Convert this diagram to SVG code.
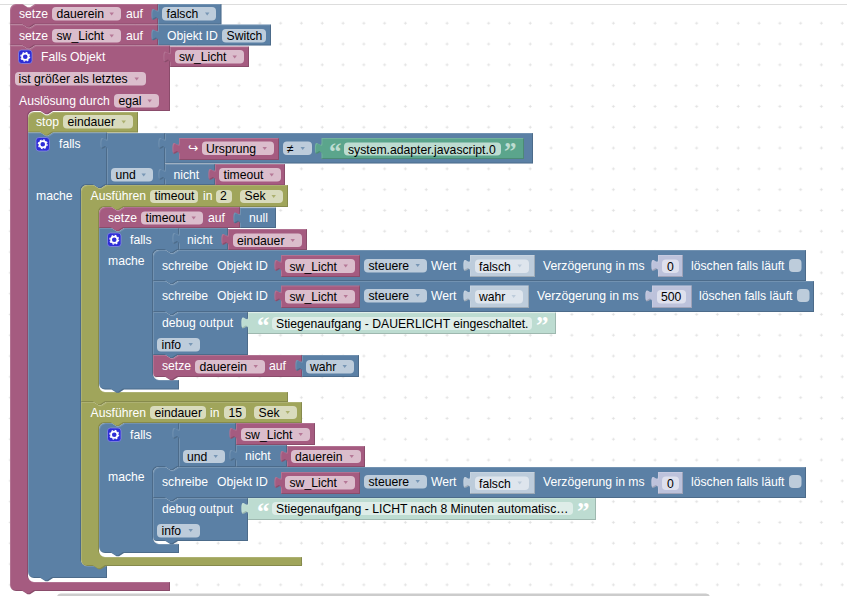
<svg xmlns="http://www.w3.org/2000/svg" width="847" height="596" viewBox="0 0 847 596">
<style>
text{font-family:"Liberation Sans",Arial,"DejaVu Sans",sans-serif;font-size:12.2px}
.t{fill:#fff}.k{fill:#000}
.m,.b,.o,.g,.l,.sb,.sn{filter:url(#bevel)}
.m{fill:#a55b80}.b{fill:#5b80a5}.o{fill:#a0a55b}.g{fill:#5ba58c}.l{fill:#bddcd1}.sb{fill:#bdccdb}.sn{fill:#bdc2db}
.fm{fill:#dbbdcc}.fb{fill:#bdccdb}.fo{fill:#d9dbbd}.fg{fill:#bddcd1}.fl{fill:#deede8}.fs{fill:#dee5ed}.fn{fill:#dee0ed}
.am{fill:#a55b80;fill-opacity:.7}.ab{fill:#5b80a5;fill-opacity:.7}.ao{fill:#a0a55b;fill-opacity:.8}.as{fill:#bdccdb}
.q{font-family:"Liberation Serif",serif;font-size:25px;font-weight:bold}
</style>
<defs>
<filter id="bevel" x="-5%" y="-5%" width="110%" height="115%" color-interpolation-filters="sRGB">
<feOffset in="SourceAlpha" dx="1" dy="1" result="o1"/>
<feComposite in="SourceGraphic" in2="o1" operator="out" result="lightArea"/>
<feFlood flood-color="#fff" flood-opacity=".14"/><feComposite in2="lightArea" operator="in" result="light"/>
<feOffset in="SourceAlpha" dx="-1" dy="-1" result="o2"/>
<feComposite in="SourceGraphic" in2="o2" operator="out" result="darkArea"/>
<feFlood flood-color="#000" flood-opacity=".16"/><feComposite in2="darkArea" operator="in" result="dark"/>
<feMerge><feMergeNode in="SourceGraphic"/><feMergeNode in="light"/><feMergeNode in="dark"/></feMerge>
</filter>
<pattern id="grid" width="20.8" height="20.8" patternUnits="userSpaceOnUse">
<path d="M8.7 2.4h3M10.2 .9v3" stroke="#ddd" stroke-width=".8" fill="none"/>
</pattern>
<path id="a" d="M0 0h4.4l-2.2 3z"/>
<g id="icon">
<rect width="13.5" height="13.5" rx="3" fill="#2d2dd6" stroke="#8f8fe8" stroke-width=".7"/>
<circle cx="6.75" cy="6.75" r="3.2" fill="none" stroke="#fff" stroke-width="1.8"/>
<circle cx="6.75" cy="6.75" r="4.4" fill="none" stroke="#fff" stroke-width="1.2" stroke-dasharray="1.7 1.75"/>
</g>
</defs>
<rect width="847" height="596" fill="#fff"/>
<rect y="4" width="847" height="592" fill="url(#grid)"/>
<path d="M0 4.5H847" stroke="#ddd"/>

<g id="setze-dauerein">
<path class="m" d="M10 10a6 6 0 0 1 6-6h6.5l5 3.3h2.5l5-3.3H158V24.5H35l-5 3.3h-2.5l-5-3.3H10z"/>
<text class="t" x="19" y="18">setze</text>
<rect class="fm" x="52" y="7" width="69" height="13.5" rx="4"/><text class="k" x="56.5" y="18">dauerein</text><use href="#a" class="am" x="109.5" y="12.5"/>
<text class="t" x="126" y="18">auf</text>
<path class="b" d="M158 4H221.5V24.5H158V20.6c0-8.3-6.6 6.6-6.6-6.2s6.6 2.1 6.6-6.2z"/>
<rect class="fb" x="162" y="7" width="54" height="13.5" rx="4"/><text class="k" x="166.5" y="18">falsch</text><use href="#a" class="ab" x="205" y="12.5"/>
</g>

<g id="setze-sw-licht">
<path class="m" d="M10 24.5h12.5l5 3.3h2.5l5-3.3H158V45.5H35l-5 3.3h-2.5l-5-3.3H10z"/>
<text class="t" x="19" y="40">setze</text>
<rect class="fm" x="52" y="29" width="69" height="13.5" rx="4"/><text class="k" x="56.5" y="40">sw_Licht</text><use href="#a" class="am" x="109.5" y="34.5"/>
<text class="t" x="126" y="40">auf</text>
<path class="b" d="M158 24.5H271V45.5H158V41.1c0-8.3-6.6 6.6-6.6-6.2s6.6 2.1 6.6-6.2z"/>
<text class="t" x="167" y="40">Objekt ID</text>
<rect class="fb" x="222" y="29" width="44" height="13.5" rx="4"/><text class="k" x="226.5" y="40">Switch</text>
</g>

<g id="falls-objekt">
<path class="m" d="M10 45.5h12.5l5 3.3h2.5l5-3.3H170V111H53l-5 3.3h-2.5l-5-3.3H34a6 6 0 0 0-6 6V576a6 6 0 0 0 6 6H170V591H35l-5 3.3h-2.5l-5-3.3H16a6 6 0 0 1-6-6z"/>
<use href="#icon" x="18.5" y="50"/>
<text class="t" x="41" y="61">Falls Objekt</text>
<path class="m" d="M170 46.5H249V67H170V63.1c0-8.3-6.6 6.6-6.6-6.2s6.6 2.1 6.6-6.2z"/>
<rect class="fm" x="175" y="50" width="69" height="13.5" rx="4"/><text class="k" x="179" y="61">sw_Licht</text><use href="#a" class="am" x="232.5" y="55.5"/>
<rect class="fm" x="15" y="72" width="131" height="13.5" rx="4"/><text class="k" x="18.5" y="83">ist größer als letztes</text><use href="#a" class="am" x="134.5" y="77.5"/>
<text class="t" x="19" y="105">Auslösung durch</text>
<rect class="fm" x="114" y="94" width="45" height="13.5" rx="4"/><text class="k" x="118.5" y="105">egal</text><use href="#a" class="am" x="147.5" y="99.5"/>
</g>

<g id="stop-eindauer">
<path class="o" d="M28 118a6 6 0 0 1 6-6h6.5l5 3.3h2.5l5-3.3H138V132.5H53l-5 3.3h-2.5l-5-3.3H28z"/>
<text class="t" x="36" y="126">stop</text>
<rect class="fo" x="63" y="115" width="70" height="13.5" rx="4"/><text class="k" x="67.5" y="126">eindauer</text><use href="#a" class="ao" x="121.5" y="120.5"/>
</g>

<g id="falls-1">
<path class="b" d="M28 132.5h12.5l5 3.3h2.5l5-3.3H107V185H106l-5 3.3h-2.5l-5-3.3H87a6 6 0 0 0-6 6V560a6 6 0 0 0 6 6H107V578H53l-5 3.3h-2.5l-5-3.3H34a6 6 0 0 1-6-6z"/>
<use href="#icon" x="36" y="137.5"/>
<text class="t" x="59" y="148">falls</text>
<text class="t" x="36" y="200">mache</text>
<path class="b" d="M107 133H165V185H107V149.6c0-8.3-6.6 6.6-6.6-6.2s6.6 2.1 6.6-6.2z"/>
<rect class="fb" x="111" y="168" width="42" height="13.5" rx="4"/><text class="k" x="115.5" y="179">und</text><use href="#a" class="ab" x="141.5" y="173.5"/>
<path class="b" d="M165 133H533V163.5H165V149.6c0-8.3-6.6 6.6-6.6-6.2s6.6 2.1 6.6-6.2z"/>
<path class="m" d="M179 138H279V160H179V154.6c0-8.3-6.6 6.6-6.6-6.2s6.6 2.1 6.6-6.2z"/>
<text class="t" x="188" y="152">↪</text>
<rect class="fm" x="202" y="141.5" width="72" height="13.5" rx="4"/><text class="k" x="206" y="152.5">Ursprung</text><use href="#a" class="am" x="262.5" y="147"/>
<rect class="fb" x="283" y="141.5" width="29" height="13.5" rx="4"/><text class="k" x="287" y="152.5">≠</text><use href="#a" class="ab" x="300.5" y="147"/>
<path class="g" d="M321.5 138H524V159H321.5V154.6c0-8.3-6.6 6.6-6.6-6.2s6.6 2.1 6.6-6.2z"/>
<text class="q fg" x="329" y="160">“</text>
<rect class="fg" x="344" y="142.5" width="157" height="13" rx="4"/><text class="k" x="348" y="153.5">system.adapter.javascript.0</text>
<text class="q fg" x="504" y="160">”</text>
<path class="b" d="M165 164H215V185H165V180.6c0-8.3-6.6 6.6-6.6-6.2s6.6 2.1 6.6-6.2z"/>
<text class="t" x="173.5" y="179">nicht</text>
<path class="m" d="M215 164H285V185.5H215V180.6c0-8.3-6.6 6.6-6.6-6.2s6.6 2.1 6.6-6.2z"/>
<rect class="fm" x="219" y="168" width="62" height="13.5" rx="4"/><text class="k" x="223.5" y="179">timeout</text><use href="#a" class="am" x="269.5" y="173.5"/>
</g>

<g id="ausfuehren-timeout">
<path class="o" d="M81 191a6 6 0 0 1 6-6h6.5l5 3.3h2.5l5-3.3H288V207H124l-5 3.3h-2.5l-5-3.3H105a6 6 0 0 0-6 6V386a6 6 0 0 0 6 6H288V402H106l-5 3.3h-2.5l-5-3.3H81z"/>
<text class="t" x="90.5" y="200">Ausführen</text>
<rect class="fo" x="150" y="190" width="48" height="13" rx="4"/><text class="k" x="154.5" y="200">timeout</text>
<text class="t" x="203" y="200">in</text>
<rect class="fo" x="216" y="190" width="16" height="13" rx="4"/><text class="k" x="220" y="200">2</text>
<rect class="fo" x="240" y="190" width="43" height="13" rx="4"/><text class="k" x="244.5" y="200">Sek</text><use href="#a" class="ao" x="271.5" y="195"/>
</g>

<g id="setze-timeout">
<path class="m" d="M99 213a6 6 0 0 1 6-6h6.5l5 3.3h2.5l5-3.3H240V228H124l-5 3.3h-2.5l-5-3.3H99z"/>
<text class="t" x="108" y="222">setze</text>
<rect class="fm" x="141" y="211.5" width="62" height="13" rx="4"/><text class="k" x="145.5" y="222">timeout</text><use href="#a" class="am" x="191.5" y="216.5"/>
<text class="t" x="208" y="222">auf</text>
<path class="b" d="M240 207.5H276V228H240V224.1c0-8.3-6.6 6.6-6.6-6.2s6.6 2.1 6.6-6.2z"/>
<text class="t" x="249" y="222">null</text>
</g>

<g id="falls-2">
<path class="b" d="M99 228h12.5l5 3.3h2.5l5-3.3H179V250H178l-5 3.3h-2.5l-5-3.3H159a6 6 0 0 0-6 6V374a6 6 0 0 0 6 6H179V389.5H124l-5 3.3h-2.5l-5-3.3H105a6 6 0 0 1-6-6z"/>
<use href="#icon" x="107.5" y="233"/>
<text class="t" x="130" y="244">falls</text>
<text class="t" x="108" y="265">mache</text>
<path class="b" d="M179 228H228V250H179V244.6c0-8.3-6.6 6.6-6.6-6.2s6.6 2.1 6.6-6.2z"/>
<text class="t" x="187" y="244">nicht</text>
<path class="m" d="M228 229H307V250H228V245.6c0-8.3-6.6 6.6-6.6-6.2s6.6 2.1 6.6-6.2z"/>
<rect class="fm" x="233" y="233.5" width="69" height="13.5" rx="4"/><text class="k" x="237" y="244.5">eindauer</text><use href="#a" class="am" x="290.5" y="239"/>
</g>

<g id="schreibe-1">
<path class="b" d="M153 256a6 6 0 0 1 6-6h6.5l5 3.3h2.5l5-3.3H806V281H178l-5 3.3h-2.5l-5-3.3H153z"/>
<text class="t" x="162" y="270">schreibe</text><text class="t" x="217" y="270">Objekt ID</text>
<path class="m" d="M281 255H360V277H281V271.6c0-8.3-6.6 6.6-6.6-6.2s6.6 2.1 6.6-6.2z"/>
<rect class="fm" x="285" y="259" width="70" height="14" rx="4"/><text class="k" x="289.5" y="270.5">sw_Licht</text><use href="#a" class="am" x="343.5" y="264.5"/>
<rect class="fb" x="364" y="259" width="63" height="13.5" rx="4"/><text class="k" x="368.5" y="270">steuere</text><use href="#a" class="ab" x="415.5" y="264"/>
<text class="t" x="431" y="270">Wert</text>
<path class="sb" d="M470 255H535V277H470V271.6c0-8.3-6.6 6.6-6.6-6.2s6.6 2.1 6.6-6.2z"/>
<rect class="fs" x="475" y="259.5" width="54" height="13.5" rx="4"/><text class="k" x="479" y="270.5">falsch</text><use href="#a" class="as" x="517.5" y="264.5"/>
<text class="t" x="543" y="270">Verzögerung in ms</text>
<path class="sn" d="M658 255H683V277H658V271.6c0-8.3-6.6 6.6-6.6-6.2s6.6 2.1 6.6-6.2z"/>
<rect class="fn" x="662" y="259.5" width="17" height="13.5" rx="4"/><text class="k" x="667" y="270.5">0</text>
<text class="t" x="691" y="270">löschen falls läuft</text>
<rect class="fb" x="789" y="259" width="12.5" height="13" rx="4"/>
</g>

<g id="schreibe-2">
<path class="b" d="M153 281h12.5l5 3.3h2.5l5-3.3H814V312H178l-5 3.3h-2.5l-5-3.3H153z"/>
<text class="t" x="162" y="300">schreibe</text><text class="t" x="217" y="300">Objekt ID</text>
<path class="m" d="M281 285.5H360V308H281V302.1c0-8.3-6.6 6.6-6.6-6.2s6.6 2.1 6.6-6.2z"/>
<rect class="fm" x="285" y="290" width="70" height="13.5" rx="4"/><text class="k" x="289.5" y="301">sw_Licht</text><use href="#a" class="am" x="343.5" y="295"/>
<rect class="fb" x="364" y="289" width="63" height="13.5" rx="4"/><text class="k" x="368.5" y="300">steuere</text><use href="#a" class="ab" x="415.5" y="294"/>
<text class="t" x="431" y="300">Wert</text>
<path class="sb" d="M470 285.5H529V308H470V302.1c0-8.3-6.6 6.6-6.6-6.2s6.6 2.1 6.6-6.2z"/>
<rect class="fs" x="475" y="290" width="48" height="13.5" rx="4"/><text class="k" x="479" y="301">wahr</text><use href="#a" class="as" x="511.5" y="295"/>
<text class="t" x="537" y="300">Verzögerung in ms</text>
<path class="sn" d="M652 285.5H692V308H652V302.1c0-8.3-6.6 6.6-6.6-6.2s6.6 2.1 6.6-6.2z"/>
<rect class="fn" x="657" y="290" width="29" height="13.5" rx="4"/><text class="k" x="661" y="301">500</text>
<text class="t" x="699" y="300">löschen falls läuft</text>
<rect class="fb" x="797" y="289" width="12.5" height="13" rx="4"/>
</g>

<g id="debug-1">
<path class="b" d="M153 312h12.5l5 3.3h2.5l5-3.3H248V355H178l-5 3.3h-2.5l-5-3.3H153z"/>
<text class="t" x="162" y="327">debug output</text>
<path class="l" d="M248 312.5H556V334H248V329.1c0-8.3-6.6 6.6-6.6-6.2s6.6 2.1 6.6-6.2z"/>
<text class="q t" x="257" y="334">“</text>
<rect class="fl" x="272" y="317" width="260" height="13" rx="4"/><text class="k" x="276" y="328">Stiegenaufgang - DAUERLICHT eingeschaltet.</text>
<text class="q t" x="536" y="334">”</text>
<rect class="fb" x="157" y="338" width="43" height="13.5" rx="4"/><text class="k" x="161.5" y="349">info</text><use href="#a" class="ab" x="188.5" y="343"/>
</g>

<g id="setze-dauerein-2">
<path class="m" d="M153 355h12.5l5 3.3h2.5l5-3.3H302V377H178l-5 3.3h-2.5l-5-3.3H157a4 4 0 0 1-4-4z"/>
<text class="t" x="162" y="370">setze</text>
<rect class="fm" x="195" y="360" width="70" height="13.5" rx="4"/><text class="k" x="199.5" y="371">dauerein</text><use href="#a" class="am" x="253.5" y="365"/>
<text class="t" x="269" y="370">auf</text>
<path class="b" d="M302 355H359V377H302V371.6c0-8.3-6.6 6.6-6.6-6.2s6.6 2.1 6.6-6.2z"/>
<rect class="fb" x="306" y="360" width="48" height="13.5" rx="4"/><text class="k" x="310" y="371">wahr</text><use href="#a" class="ab" x="342.5" y="365"/>
</g>

<g id="ausfuehren-eindauer">
<path class="o" d="M81 402h12.5l5 3.3h2.5l5-3.3H302V423H124l-5 3.3h-2.5l-5-3.3H105a6 6 0 0 0-6 6V551a6 6 0 0 0 6 6H302V566H106l-5 3.3h-2.5l-5-3.3H87a6 6 0 0 1-6-6z"/>
<text class="t" x="90.5" y="417">Ausführen</text>
<rect class="fo" x="150" y="406" width="56" height="13" rx="4"/><text class="k" x="154.5" y="417">eindauer</text>
<text class="t" x="210" y="417">in</text>
<rect class="fo" x="224" y="406" width="22" height="13" rx="4"/><text class="k" x="228.5" y="417">15</text>
<rect class="fo" x="254" y="406" width="43" height="13" rx="4"/><text class="k" x="258.5" y="417">Sek</text><use href="#a" class="ao" x="285.5" y="411"/>
</g>

<g id="falls-3">
<path class="b" d="M99 429a6 6 0 0 1 6-6h6.5l5 3.3h2.5l5-3.3H179V467H178l-5 3.3h-2.5l-5-3.3H159a6 6 0 0 0-6 6V538a6 6 0 0 0 6 6H179V553H124l-5 3.3h-2.5l-5-3.3H105a6 6 0 0 1-6-6z"/>
<use href="#icon" x="107.5" y="428"/>
<text class="t" x="130" y="439">falls</text>
<text class="t" x="108" y="481">mache</text>
<path class="b" d="M179 423H236V467H179V439.6c0-8.3-6.6 6.6-6.6-6.2s6.6 2.1 6.6-6.2z"/>
<rect class="fb" x="183" y="450" width="42" height="13" rx="4"/><text class="k" x="187" y="461">und</text><use href="#a" class="ab" x="213.5" y="455"/>
<path class="m" d="M236 423H315V445H236V439.6c0-8.3-6.6 6.6-6.6-6.2s6.6 2.1 6.6-6.2z"/>
<rect class="fm" x="241" y="428" width="69" height="13" rx="4"/><text class="k" x="245" y="439">sw_Licht</text><use href="#a" class="am" x="298.5" y="433"/>
<path class="b" d="M236 445H287V467H236V461.6c0-8.3-6.6 6.6-6.6-6.2s6.6 2.1 6.6-6.2z"/>
<text class="t" x="245" y="460">nicht</text>
<path class="m" d="M287 446H365V467H287V462.6c0-8.3-6.6 6.6-6.6-6.2s6.6 2.1 6.6-6.2z"/>
<rect class="fm" x="291" y="450" width="70" height="13" rx="4"/><text class="k" x="295" y="461">dauerein</text><use href="#a" class="am" x="349.5" y="455"/>
</g>

<g id="schreibe-3">
<path class="b" d="M153 473a6 6 0 0 1 6-6h6.5l5 3.3h2.5l5-3.3H806V498H178l-5 3.3h-2.5l-5-3.3H153z"/>
<text class="t" x="162" y="486">schreibe</text><text class="t" x="217" y="486">Objekt ID</text>
<path class="m" d="M281 472H360V494H281V488.6c0-8.3-6.6 6.6-6.6-6.2s6.6 2.1 6.6-6.2z"/>
<rect class="fm" x="285" y="476" width="70" height="13.5" rx="4"/><text class="k" x="289.5" y="487">sw_Licht</text><use href="#a" class="am" x="343.5" y="481"/>
<rect class="fb" x="364" y="475" width="63" height="13.5" rx="4"/><text class="k" x="368.5" y="486">steuere</text><use href="#a" class="ab" x="415.5" y="480"/>
<text class="t" x="431" y="486">Wert</text>
<path class="sb" d="M470 472H535V494H470V488.6c0-8.3-6.6 6.6-6.6-6.2s6.6 2.1 6.6-6.2z"/>
<rect class="fs" x="475" y="476.5" width="54" height="13.5" rx="4"/><text class="k" x="479" y="487.5">falsch</text><use href="#a" class="as" x="517.5" y="481.5"/>
<text class="t" x="543" y="486">Verzögerung in ms</text>
<path class="sn" d="M658 472H683V494H658V488.6c0-8.3-6.6 6.6-6.6-6.2s6.6 2.1 6.6-6.2z"/>
<rect class="fn" x="662" y="476.5" width="17" height="13.5" rx="4"/><text class="k" x="667" y="487.5">0</text>
<text class="t" x="691" y="486">löschen falls läuft</text>
<rect class="fb" x="789" y="475" width="12.5" height="13" rx="4"/>
</g>

<g id="debug-2">
<path class="b" d="M153 498h12.5l5 3.3h2.5l5-3.3H248V541H178l-5 3.3h-2.5l-5-3.3H157a4 4 0 0 1-4-4z"/>
<text class="t" x="162" y="513">debug output</text>
<path class="l" d="M248 498H596V520H248V514.6c0-8.3-6.6 6.6-6.6-6.2s6.6 2.1 6.6-6.2z"/>
<text class="q t" x="257" y="520">“</text>
<rect class="fl" x="272" y="502" width="301" height="13" rx="4"/><text class="k" x="276" y="513">Stiegenaufgang - LICHT nach 8 Minuten automatisc…</text>
<text class="q t" x="577" y="520">”</text>
<rect class="fb" x="157" y="524" width="43" height="13.5" rx="4"/><text class="k" x="161.5" y="535">info</text><use href="#a" class="ab" x="188.5" y="529"/>
</g>

<rect x="57" y="593.5" width="653" height="8" rx="4" fill="#ccc"/>
</svg>
